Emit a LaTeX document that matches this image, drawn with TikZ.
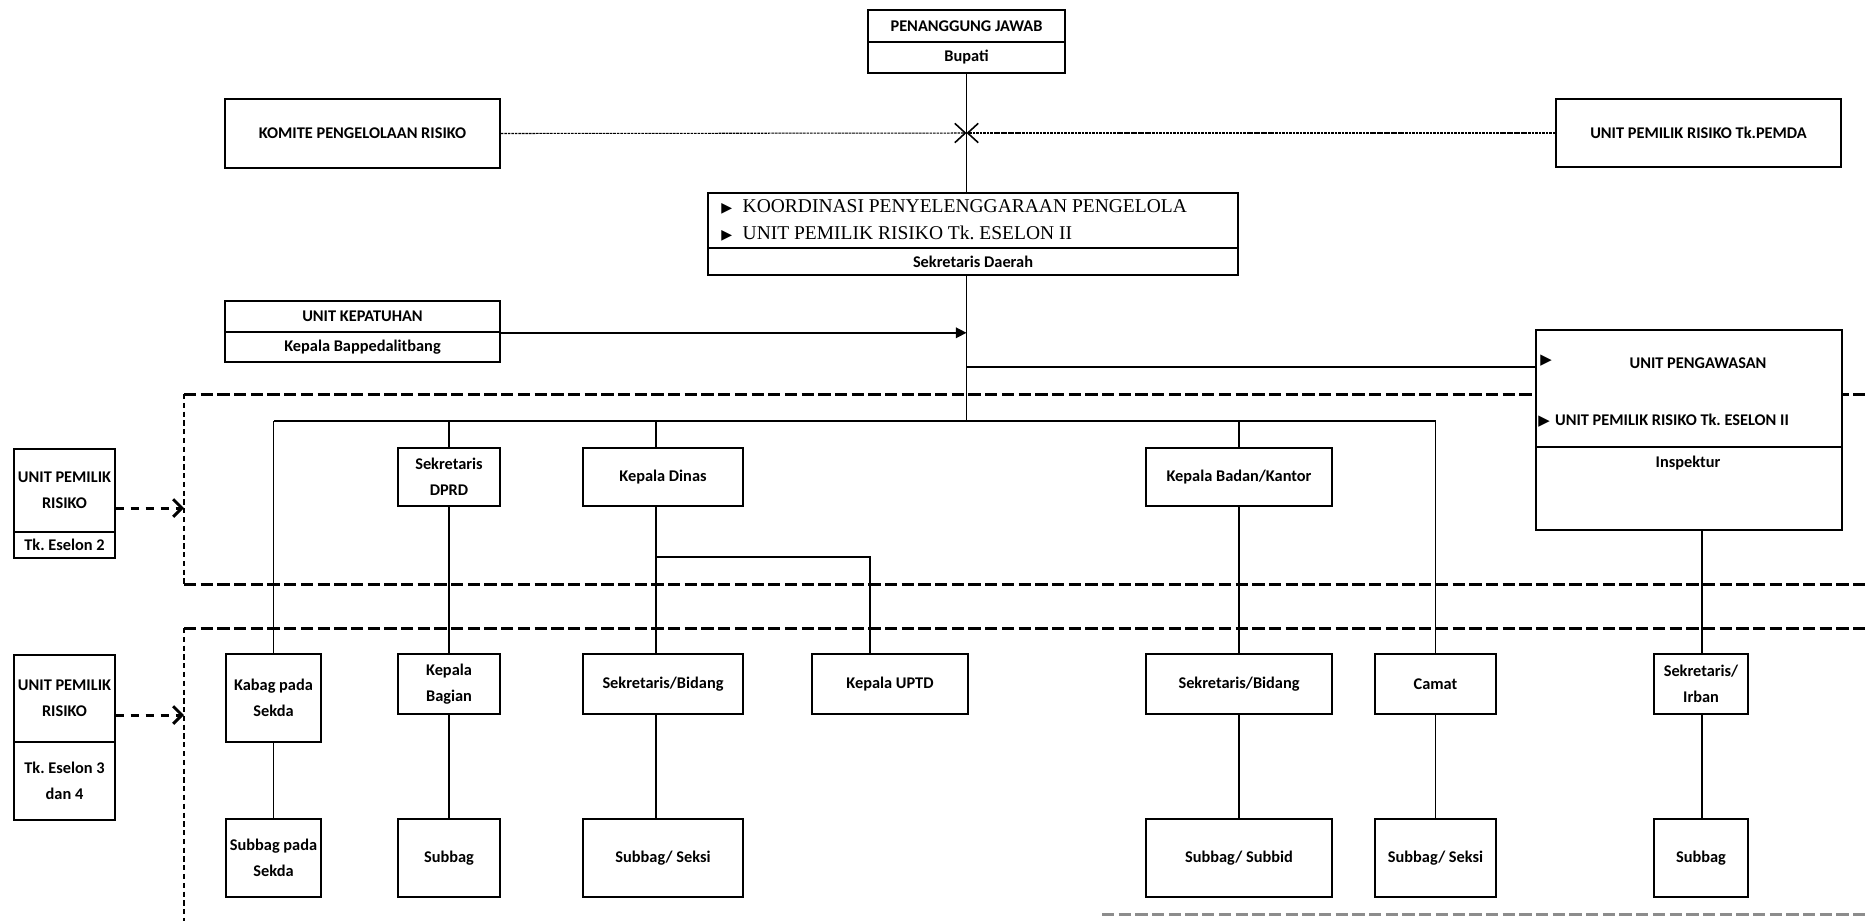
\documentclass[tikz,border=0pt]{standalone}
\usepackage{fontspec}
\setmainfont{Carlito}
\newfontfamily\seriffont{Liberation Serif}
\newfontfamily\symfont{DejaVu Sans}
\usetikzlibrary{arrows.meta}
\frenchspacing
\newcommand\bxfont{\bfseries\fontsize{9.3}{14.8}\selectfont}
\newcommand\tri[1]{{\symfont\fontsize{#1}{#1}\selectfont ▶}}
\newcommand\bx[7][]{\node[bx,minimum width={(#5-#3)*0.02cm},minimum height={(#6-#4)*0.02cm},#1] (#2) at ({(#3+#5)/2},{(#4+#6)/2}) {#7};}
\tikzset{
  bx/.style={draw, line width=0.9pt, fill=white, inner sep=1pt, align=center, font=\bxfont},
  txt/.style={inner sep=0pt, font=\bxfont},
  stxt/.style={inner sep=0pt, font=\seriffont\fontsize{11.1}{13}\selectfont},
  conn/.style={line width=0.8pt},
  thinln/.style={line width=0.6pt, dash pattern=on 1.5pt off 0.5pt, -{Straight Barb[length=6pt,width=11pt,line width=0.9pt]}},
  dashbig/.style={line width=1.7pt, dash pattern=on 7pt off 2.5pt},
  dashv/.style={line width=1.1pt, dash pattern=on 3pt off 2pt},
  darr/.style={line width=1.7pt, dash pattern=on 4.5pt off 4pt, -{Straight Barb[length=5pt,width=10pt]}},
}
\begin{document}
\begin{tikzpicture}[x=0.02cm, y=-0.02cm]
\useasboundingbox (0,0) rectangle (1865,921);
% dashed frames
\coordinate (d1tl) at (184,394); \coordinate (d1tr) at (1865,394);
\coordinate (d1bl) at (184,584); \coordinate (d1br) at (1865,584);
\coordinate (d2tl) at (184,628); \coordinate (d2tr) at (1865,628);
\coordinate (d2bl) at (184,921);
\coordinate (d3l) at (1102,914); \coordinate (d3r) at (1865,914);
\draw[dashbig] (d1tl) -- (d1tr);
\draw[dashbig] (d1bl) -- (d1br);
\draw[dashv] (d1tl) -- (d1bl);
\draw[dashbig] (d2tl) -- (d2tr);
\draw[dashv] (d2tl) -- (d2bl);
\draw[dashbig, black!45] (d3l) -- (d3r);

% boxes
\bx{bupT}{868}{10}{1065}{42}{PENANGGUNG JAWAB}
\bx{bupB}{868}{42}{1065}{73}{Bupati}
\bx{komite}{225}{99}{500}{168}{KOMITE PENGELOLAAN RISIKO}
\bx{pemda}{1556}{99}{1841}{167}{UNIT PEMILIK RISIKO Tk.PEMDA}
\bx{sekT}{708}{193}{1238}{248}{}
\bx{sekB}{708}{248}{1238}{275}{Sekretaris Daerah}
\bx{kepT}{225}{301}{500}{332}{UNIT KEPATUHAN}
\bx{kepB}{225}{332}{500}{362}{Kepala Bappedalitbang}
\bx{pengT}{1536}{330}{1842}{447}{}
\bx{pengB}{1536}{447}{1842}{530}{}
\bx{e2T}{14}{449}{115}{532}{UNIT PEMILIK\\RISIKO}
\bx{e2B}{14}{532}{115}{558}{Tk. Eselon 2}
\bx{e3T}{14}{655}{115}{742}{UNIT PEMILIK\\RISIKO}
\bx{e3B}{14}{742}{115}{820}{Tk. Eselon 3\\dan 4}
\bx{sdprd}{398}{448}{500}{506}{Sekretaris\\DPRD}
\bx{kdinas}{583}{448}{743}{506}{Kepala Dinas}
\bx{kbadan}{1146}{448}{1332}{506}{Kepala Badan/Kantor}
\bx{kabag}{226}{654}{321}{742}{Kabag pada\\Sekda}
\bx{kbagian}{398}{654}{500}{714}{Kepala\\Bagian}
\bx{sbid1}{583}{654}{743}{714}{Sekretaris/Bidang}
\bx{uptd}{812}{654}{968}{714}{Kepala UPTD}
\bx{sbid2}{1146}{654}{1332}{714}{Sekretaris/Bidang}
\bx{camat}{1375}{654}{1496}{714}{Camat}
\bx{irban}{1654}{654}{1748}{714}{Sekretaris/\\Irban}
\bx{sub1}{226}{819}{321}{897}{Subbag pada\\Sekda}
\bx{sub2}{398}{819}{500}{897}{Subbag}
\bx{sub3}{583}{819}{743}{897}{Subbag/ Seksi}
\bx{sub4}{1146}{819}{1332}{897}{Subbag/ Subbid}
\bx{sub5}{1375}{819}{1496}{897}{Subbag/ Seksi}
\bx{sub6}{1654}{819}{1748}{897}{Subbag}

% texts inside compound boxes
\node[stxt, anchor=west] (sk1) at (721,207) {\tri{8}\hspace{6pt}KOORDINASI PENYELENGGARAAN PENGELOLA};
\node[stxt, anchor=west] (sk2) at (721,234) {\tri{8}\hspace{6pt}UNIT PEMILIK RISIKO Tk. ESELON II};
\node[txt] (pw1) at (1546,361) {\tri{8.5}};
\node[txt] (pw2) at (1698,363) {UNIT PENGAWASAN};
\node[txt, anchor=west] (pw3) at (1538,421) {\tri{8.5}\hspace{3pt}UNIT PEMILIK RISIKO Tk. ESELON II};
\node[txt] (insp) at (1688,463) {Inspektur};

% connectors
\coordinate (jx) at (966.5,133);
\draw[thinln] (komite.east) -- (jx);
\draw[thinln] (pemda.west) -- (jx);
\coordinate (busL) at (274,421);
\coordinate (busR) at (1435.5,421);
\coordinate (jp) at (1000,367);
\draw[conn] (bupB.south) -- (bupB.south |- sekT.north);
\draw[conn] (bupB.south |- sekB.south) -- (bupB.south |- busL);
\draw[conn, -{Triangle[length=6pt,width=6pt]}] (kepT.south east) -- (kepT.south east -| bupB.south);
\draw[conn] (jp -| bupB.south) -- (jp -| pengT.west);
\draw[conn] (busL) -- (busR);
\draw[conn] (busL -| kabag.north) -- (kabag.north);
\draw[conn] (busL -| sdprd.north) -- (sdprd.north);
\coordinate (kdx) at (656,421);
\draw[conn] (kdx) -- (kdx |- kdinas.north);
\draw[conn] (busL -| kbadan.north) -- (kbadan.north);
\draw[conn] (busR) -- (busR |- camat.north);
\draw[conn] (kabag.south) -- (sub1.north);
\draw[conn] (sdprd.south) -- (kbagian.north);
\draw[conn] (kbagian.south) -- (sub2.north);
\draw[conn] (kdx |- kdinas.south) -- (kdx |- sbid1.north);
\coordinate (kdj) at (656,557);
\coordinate (upj) at (870,557);
\draw[conn] (kdj) -- (upj) -- (upj |- uptd.north);
\draw[conn] (kdx |- sbid1.south) -- (kdx |- sub3.north);
\draw[conn] (kbadan.south) -- (sbid2.north);
\draw[conn] (sbid2.south) -- (sub4.north);
\draw[conn] (camat.south) -- (sub5.north);
\coordinate (inx) at (1702,500);
\draw[conn] (inx |- pengB.south) -- (inx |- irban.north);
\draw[conn] (inx |- irban.south) -- (inx |- sub6.north);
\coordinate (a2) at (184,508);
\coordinate (a3) at (184,715);
\draw[darr] (a2 -| e2T.east) -- (a2);
\draw[darr] (a3 -| e3T.east) -- (a3);
\end{tikzpicture}
\end{document}
